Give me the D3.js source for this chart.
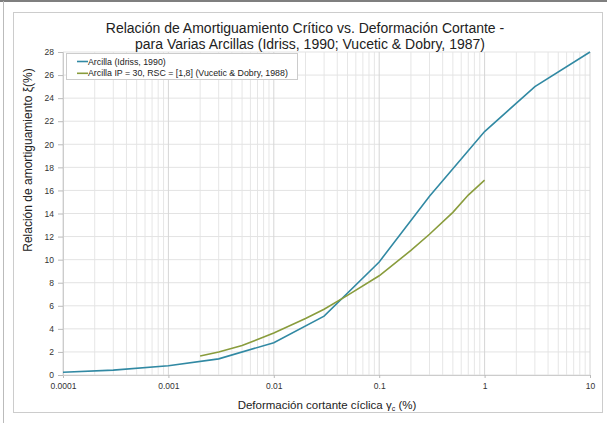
<!DOCTYPE html>
<html><head><meta charset="utf-8">
<script src="https://cdn.jsdelivr.net/npm/d3@7"></script>
<style>body{margin:0;background:#fff;font-family:"Liberation Sans",Arial,sans-serif;}</style>
</head><body><svg id="c" width="607" height="423"></svg>
<script>
const idrissX = [0.0001,0.0003,0.001,0.003,0.01,0.03,0.1,0.3,1,3,10];
const idrissY = [0.24,0.42,0.8,1.4,2.8,5.1,9.8,15.5,21.1,25,28];
const vdX = [0.002,0.003,0.005,0.01,0.02,0.03,0.05,0.1,0.2,0.3,0.5,0.7,1];
const vdY = [1.65,2.0,2.55,3.65,4.9,5.7,6.9,8.6,10.8,12.2,14.1,15.6,16.9];
const xTicks = [0.0001,0.001,0.01,0.1,1,10];
const xTickLabels = ["0.0001","0.001","0.01","0.1","1","10"];
const yTicks = [0,2,4,6,8,10,12,14,16,18,20,22,24,26,28];
const seriesNames = ["Arcilla (Idriss, 1990)","Arcilla IP = 30, RSC = [1,8] (Vucetic & Dobry, 1988)"];
const colors = ["#3189a3","#899c3c"];

const svg = d3.select("#c");
svg.append("line").attr("x1",0).attr("x2",607).attr("y1",1).attr("y2",1).attr("stroke","#555").attr("stroke-width",1.5);
svg.append("line").attr("x1",3.5).attr("x2",3.5).attr("y1",1).attr("y2",423).attr("stroke","#bbb");
svg.append("rect").attr("x",13.5).attr("y",12.5).attr("width",589).attr("height",400).attr("fill","none").attr("stroke","#ccc");

const L=63,R=590,T=52,B=375;
const x = d3.scaleLog().domain([0.0001,10]).range([L,R]);
const y = d3.scaleLinear().domain([0,28]).range([B,T]);

const g = svg.append("g");
const minor=[];
for(let e=-4;e<1;e++){for(let m=2;m<=9;m++){minor.push(m*Math.pow(10,e));}}
g.selectAll(".mv").data(minor).enter().append("line")
 .attr("x1",d=>x(d)).attr("x2",d=>x(d)).attr("y1",T).attr("y2",B)
 .attr("stroke","#e6e6e6").attr("stroke-width",1);
g.selectAll(".hv").data(yTicks).enter().append("line")
 .attr("x1",L).attr("x2",R).attr("y1",d=>y(d)).attr("y2",d=>y(d))
 .attr("stroke","#e3e3e3").attr("stroke-width",1);
g.selectAll(".Mv").data(xTicks).enter().append("line")
 .attr("x1",d=>x(d)).attr("x2",d=>x(d)).attr("y1",T).attr("y2",B)
 .attr("stroke","#d6d6d6").attr("stroke-width",1);

const xa = svg.append("g").attr("transform",`translate(0,${B})`)
 .call(d3.axisBottom(x).tickValues(xTicks).tickFormat((d,i)=>xTickLabels[i]).tickSize(3).tickPadding(5));
const ya = svg.append("g").attr("transform",`translate(${L},0)`)
 .call(d3.axisLeft(y).tickValues(yTicks).tickSize(5).tickPadding(4));
[xa,ya].forEach(a=>{a.select(".domain").attr("stroke","#ccc");a.selectAll(".tick line").attr("stroke","#bbb");
 a.selectAll("text").attr("fill","#333").style("font-size","8.5px").style("font-family","'Liberation Sans',Arial,sans-serif");});

const line = d3.line().x(d=>x(d[0])).y(d=>y(d[1]));
const s1 = idrissX.map((v,i)=>[v,idrissY[i]]);
const s2 = vdX.map((v,i)=>[v,vdY[i]]);
svg.append("path").datum(s1).attr("d",line).attr("fill","none").attr("stroke",colors[0]).attr("stroke-width",1.6);
svg.append("path").datum(s2).attr("d",line).attr("fill","none").attr("stroke",colors[1]).attr("stroke-width",1.6);

const lg = svg.append("g");
lg.append("rect").attr("x",66.5).attr("y",53.5).attr("width",231).attr("height",26).attr("fill","#fff").attr("stroke","#ccc");
seriesNames.forEach((n,i)=>{
 const yy=61.5+i*11.8;
 lg.append("line").attr("x1",77).attr("x2",88).attr("y1",yy).attr("y2",yy).attr("stroke",colors[i]).attr("stroke-width",1.6);
 lg.append("text").attr("x",88).attr("y",yy+3).text(n).attr("fill","#222").style("font-size","8.8px");
});

svg.append("text").attr("x",305).attr("y",33).attr("text-anchor","middle").style("font-size","14px").attr("fill","#222")
 .text("Relación de Amortiguamiento Crítico vs. Deformación Cortante -");
svg.append("text").attr("x",310).attr("y",49).attr("text-anchor","middle").style("font-size","14px").attr("fill","#222")
 .text("para Varias Arcillas (Idriss, 1990; Vucetic & Dobry, 1987)");
const yl = svg.append("text").attr("transform","translate(32,160) rotate(-90)").attr("text-anchor","middle").style("font-size","12px").attr("fill","#222");
yl.append("tspan").text("Relación de amortiguamiento ξ(%)");
const xl = svg.append("text").attr("x",327).attr("y",409).attr("text-anchor","middle").style("font-size","11.5px").attr("fill","#222");
xl.append("tspan").text("Deformación cortante cíclica γ");
xl.append("tspan").attr("dy",2).style("font-size","7px").text("c");
xl.append("tspan").attr("dy",-2).text(" (%)");
</script></body></html>
